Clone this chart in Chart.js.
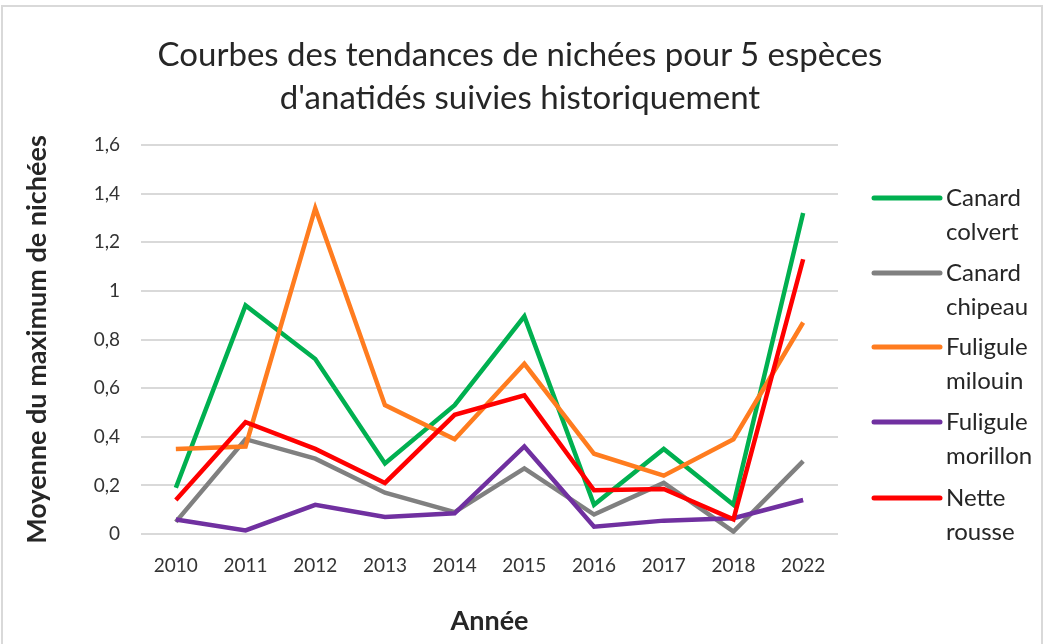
<!DOCTYPE html>
<html>
<head>
<meta charset="utf-8">
<script src="https://cdn.jsdelivr.net/npm/chart.js@4"></script>
<style>
  html, body { margin: 0; padding: 0; background: #fff; }
  #frame { position: absolute; left: 1px; top: 5px; width: 1042px; height: 650px; border: 2px solid #d9d9d9; box-sizing: border-box; }
  #wrap { position: absolute; left: 0; top: 0; width: 1047px; height: 644px; }
  #title { position: absolute; left: 0; top: 32px; width: 1040px; text-align: center;
           font-family: Lato, "Open Sans", sans-serif; font-size: 33px; line-height: 43px; color: #262626; }
</style>
</head>
<body>
<div id="frame"></div>
<div id="wrap"><canvas id="chart" width="1047" height="644"></canvas></div>
<div id="title">Courbes des tendances de nichées pour 5 espèces<br>d'anatidés suivies historiquement</div>
<script>
const years = ['2010', '2011', '2012', '2013', '2014', '2015', '2016', '2017', '2018', '2022'];
const canardColvert = [0.19, 0.94, 0.72, 0.29, 0.53, 0.895, 0.12, 0.35, 0.12, 1.32];
const canardChipeau = [0.05, 0.39, 0.31, 0.17, 0.09, 0.27, 0.08, 0.21, 0.01, 0.30];
const fuliguleMilouin = [0.35, 0.36, 1.34, 0.53, 0.39, 0.70, 0.33, 0.24, 0.39, 0.87];
const fuliguleMorillon = [0.06, 0.015, 0.12, 0.07, 0.085, 0.36, 0.03, 0.055, 0.065, 0.14];
const netteRousse = [0.14, 0.46, 0.35, 0.21, 0.49, 0.57, 0.18, 0.185, 0.06, 1.13];
const yTicks = [0, 0.2, 0.4, 0.6, 0.8, 1, 1.2, 1.4, 1.6];

const series = [
  { name: ['Canard', 'colvert'], data: canardColvert, color: '#00B050' },
  { name: ['Canard', 'chipeau'], data: canardChipeau, color: '#808080' },
  { name: ['Fuligule', 'milouin'], data: fuliguleMilouin, color: '#FF7C1F' },
  { name: ['Fuligule', 'morillon'], data: fuliguleMorillon, color: '#7030A0' },
  { name: ['Nette', 'rousse'], data: netteRousse, color: '#FF0000' }
];

const FONT = 'Lato, "Open Sans", sans-serif';

// legend drawn by hand: two-line labels on the right
const sideLegend = {
  id: 'sideLegend',
  afterDraw(chart) {
    const ctx = chart.ctx;
    const tops = [198, 273, 347, 422, 498];
    ctx.save();
    ctx.font = '24px ' + FONT;
    ctx.fillStyle = '#262626';
    ctx.textBaseline = 'middle';
    series.forEach((s, i) => {
      const y = tops[i];
      ctx.strokeStyle = s.color;
      ctx.lineWidth = 5;
      ctx.lineCap = 'round';
      ctx.beginPath();
      ctx.moveTo(874, y);
      ctx.lineTo(940, y);
      ctx.stroke();
      ctx.fillText(s.name[0], 946, y);
      ctx.fillText(s.name[1], 946, y + 34);
    });
    ctx.restore();
  }
};

new Chart(document.getElementById('chart'), {
  type: 'line',
  data: {
    labels: years,
    datasets: series.map((s, i) => ({
      label: s.name.join(' '),
      data: s.data,
      borderColor: s.color,
      backgroundColor: s.color,
      borderWidth: 4.5,
      pointRadius: 0,
      tension: 0,
      order: series.length - i
    }))
  },
  options: {
    responsive: false,
    animation: false,
    layout: { padding: { left: 0, right: 209, top: 145, bottom: 0 } },
    plugins: {
      legend: { display: false },
      tooltip: { enabled: false }
    },
    scales: {
      x: {
        offset: true,
        afterFit(scale) { scale.height = 110; },
        grid: { display: false },
        border: { display: false },
        ticks: { color: '#333333', font: { family: FONT, size: 19 }, padding: 12, maxRotation: 0 },
        title: { display: true, text: 'Année', color: '#262626', font: { family: FONT, size: 27, weight: 'bold' }, padding: { top: 0, bottom: 7 } }
      },
      y: {
        min: 0,
        max: 1.6,
        afterFit(scale) { scale.width = 141; },
        afterBuildTicks(scale) { scale.ticks = yTicks.map(v => ({ value: v })); },
        grid: { color: '#d9d9d9', lineWidth: 2, drawTicks: false },
        border: { display: false },
        ticks: {
          color: '#333333',
          font: { family: FONT, size: 19 },
          padding: 21,
          callback: v => String(Math.round(v * 10) / 10).replace('.', ',')
        },
        title: { display: true, text: 'Moyenne du maximum de nichées', color: '#262626', font: { family: FONT, size: 27, weight: 'bold' }, padding: { top: 21, bottom: 0 } }
      }
    }
  },
  plugins: [sideLegend]
});
</script>
</body>
</html>
